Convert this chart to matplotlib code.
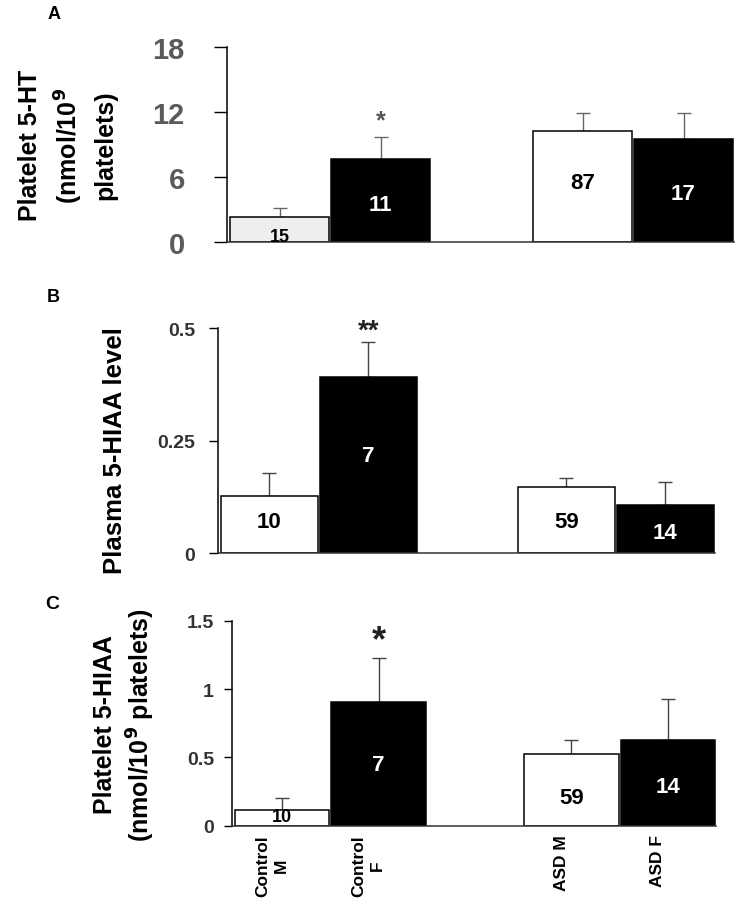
import matplotlib
matplotlib.use("Agg")
import matplotlib.pyplot as plt
from matplotlib.transforms import ScaledTranslation

# ---------------------------------------------------------------------------
# Data
# ---------------------------------------------------------------------------
groups = ["Control\nM", "Control\nF", "ASD M", "ASD F"]

ht_mean = [2.35, 7.7, 10.2, 9.5]
ht_err = [0.85, 2.0, 1.7, 2.4]
ht_n = ["15", "11", "87", "17"]
ht_n_y = [0.5, 3.5, 5.5, 4.45]

plasma_mean = [0.127, 0.391, 0.147, 0.107]
plasma_err = [0.051, 0.078, 0.020, 0.051]
plasma_n = ["10", "7", "59", "14"]
plasma_n_y = [0.07, 0.217, 0.07, 0.047]

plt_hiaa_mean = [0.117, 0.902, 0.527, 0.627]
plt_hiaa_err = [0.083, 0.322, 0.097, 0.300]
plt_hiaa_n = ["10", "7", "59", "14"]
plt_hiaa_n_y = [0.069, 0.45, 0.207, 0.29]

# ---------------------------------------------------------------------------
# Style
# ---------------------------------------------------------------------------
W, H = 739, 912
XPOS = [0, 1, 3, 4]
BAR_W = 0.98
SANS = ["Liberation Sans", "DejaVu Sans"]

plt.rcParams["font.family"] = SANS
plt.rcParams["font.weight"] = "bold"


def px_axes(fig, x0, x1, y_top, y_bot):
    return fig.add_axes([x0 / W, 1 - y_bot / H, (x1 - x0) / W, (y_bot - y_top) / H])


def draw_panel(ax, means, errs, ns, n_y, ylim, yticks, yticklabels,
               tick_color, tick_size, tick_len, tick_pad, err_color,
               first_face="white"):
    faces = [first_face, "black", "white", "black"]
    ax.bar(XPOS, means, width=BAR_W, color=faces, edgecolor="black",
           linewidth=1.1, zorder=2)
    ax.errorbar(XPOS, means, yerr=[[0] * len(errs), errs], fmt="none",
                ecolor=err_color, elinewidth=1.0, capsize=5, capthick=1.0,
                zorder=1)
    for x, lab, y, face, m in zip(XPOS, ns, n_y, faces, means):
        small = m < 0.2 * ylim[1]
        ax.text(x, y, lab, ha="center", va="center",
                color="white" if face == "black" else "black",
                fontsize=13 if small else 16, fontweight="bold", zorder=3)
    ax.set_xlim(-0.52, 4.5)
    ax.set_ylim(*ylim)
    ax.set_yticks(yticks)
    ax.set_yticklabels(yticklabels)
    ax.tick_params(axis="y", direction="out", length=tick_len, width=1.0,
                   pad=tick_pad, labelsize=tick_size, labelcolor=tick_color)
    ax.tick_params(axis="x", length=0)
    ax.set_xticks([])
    for side in ("top", "right"):
        ax.spines[side].set_visible(False)
    ax.spines["left"].set_linewidth(1.1)
    ax.spines["bottom"].set_linewidth(1.1)
    ax.spines["bottom"].set_color("#333333")


fig = plt.figure(figsize=(W / 100, H / 100), dpi=100)

# Panel A -------------------------------------------------------------------
axA = px_axes(fig, 227, 734, 47.7, 243.3)
draw_panel(axA, ht_mean, ht_err, ht_n, ht_n_y, (0, 18), [0, 6, 12, 18],
           ["0", "6", "12", "18"], "#5a5a5a", 21, 9.5, 21, "#666666",
           first_face="#eeeeee")
axA.text(1, 11.2, "*", ha="center", va="center", fontsize=18,
         color="#555555", fontweight="bold")
fig.text(67.5 / W, 1 - 145.5 / H, "Platelet 5-HT\n(nmol/10$^{\\mathbf{9}}$\nplatelets)",
         rotation=90, ha="center", va="center", ma="center", fontsize=18,
         fontweight="bold", linespacing=1.45)
fig.text(48 / W, 1 - 6 / H, "A", ha="left", va="top", fontsize=13,
         fontweight="bold")

# Panel B -------------------------------------------------------------------
axB = px_axes(fig, 218, 715, 329.3, 554.3)
draw_panel(axB, plasma_mean, plasma_err, plasma_n, plasma_n_y, (0, 0.5),
           [0, 0.25, 0.5], ["0", "0.25", "0.5"], "#333333", 14, 6.5, 10,
           "#444444")
axB.text(1, 0.494, "**", ha="center", va="center", fontsize=20,
         color="#222222", fontweight="bold")
fig.text(115 / W, 1 - 451 / H, "Plasma 5-HIAA level", rotation=90,
         ha="center", va="center", fontsize=18.5, fontweight="bold")
fig.text(47 / W, 1 - 289 / H, "B", ha="left", va="top", fontsize=13,
         fontweight="bold")

# Panel C -------------------------------------------------------------------
axC = px_axes(fig, 232, 716, 621.7, 826.7)
draw_panel(axC, plt_hiaa_mean, plt_hiaa_err, plt_hiaa_n, plt_hiaa_n_y,
           (0, 1.5), [0, 0.5, 1, 1.5], ["0", "0.5", "1", "1.5"], "#333333",
           14, 6, 7, "#444444")
axC.text(1, 1.353, "*", ha="center", va="center", fontsize=26,
         color="#222222", fontweight="bold")
fig.text(125 / W, 1 - 725 / H, "Platelet 5-HIAA\n(nmol/10$^{\\mathbf{9}}$ platelets)",
         rotation=90, ha="center", va="center", ma="center", fontsize=18,
         fontweight="bold", linespacing=1.3)
fig.text(45 / W, 1 - 596 / H, "C", ha="left", va="top", fontsize=14,
         fontweight="bold")

# Group labels under panel C
axC.set_xticks(XPOS)
axC.set_xticklabels(groups, rotation=90, fontsize=12.5, fontweight="bold",
                    va="top", ha="center", linespacing=1.3)
axC.tick_params(axis="x", length=0, pad=6)
shift = ScaledTranslation(-10 / 100, 0, fig.dpi_scale_trans)
for lab in axC.get_xticklabels():
    lab.set_transform(lab.get_transform() + shift)

fig.savefig("out.png", dpi=100)
